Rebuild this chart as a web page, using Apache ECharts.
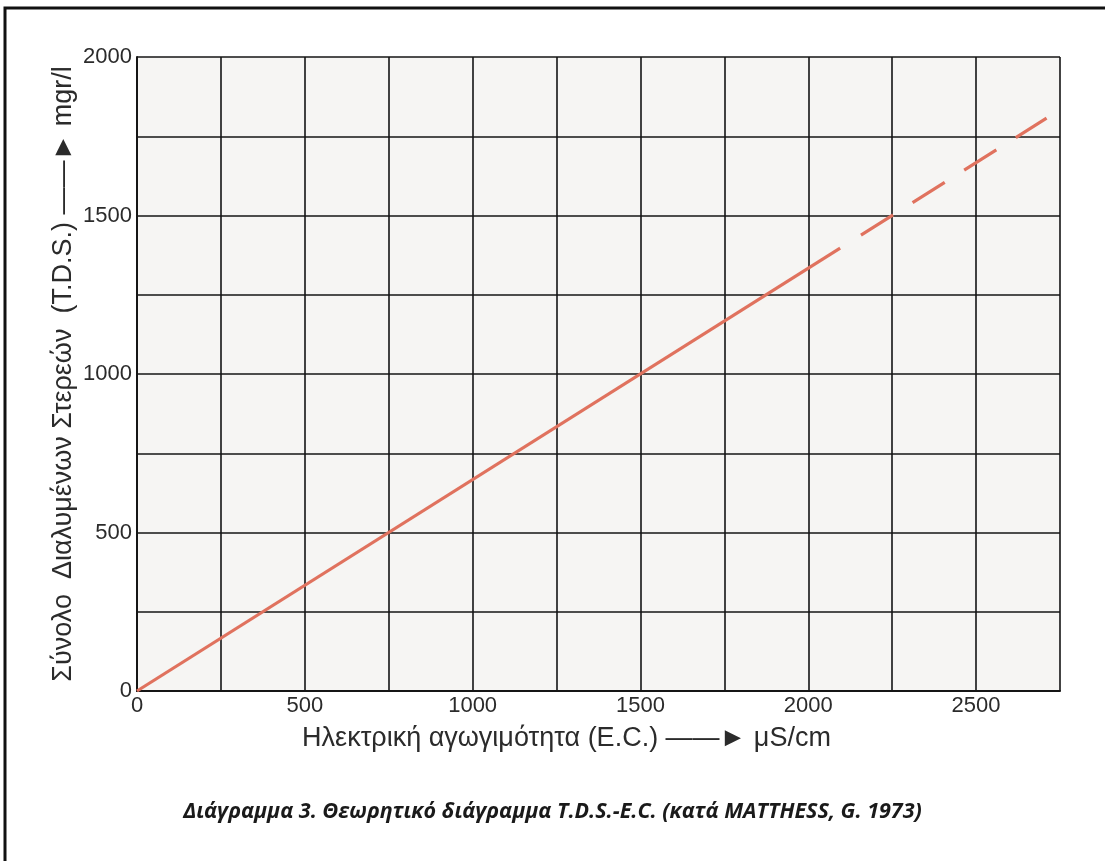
<!DOCTYPE html>
<html>
<head>
<meta charset="utf-8">
<script src="https://cdn.jsdelivr.net/npm/echarts@6/dist/echarts.min.js"></script>
<style>
html,body{margin:0;padding:0;background:#fff;}
#chart{width:1105px;height:861px;}
</style>
</head>
<body>
<div id="chart"></div>
<script>
// Data
const solidEC = [0, 2095];
const solidTDS = [0, 1397];
const dashedEC = [2157, 2710];
const dashedTDS = [1438, 1807];
const xTickLabels = [0, 500, 1000, 1500, 2000, 2500];
const yTickLabels = [0, 500, 1000, 1500, 2000];
const xName = 'Ηλεκτρική αγωγιμότητα (E.C.) ——► μS/cm';
const yName = 'Σύνολο  Διαλυμένων Στερεών  (T.D.S.) ——► mgr/l';
const caption = 'Διάγραμμα 3. Θεωρητικό διάγραμμα T.D.S.-E.C. (κατά MATTHESS, G. 1973)';

const chart = echarts.init(document.getElementById('chart'), null, {renderer: 'canvas'});
const pairs = (xs, ys) => xs.map((x, i) => [x, ys[i]]);
const gridLine = {show: true, lineStyle: {color: '#151515', width: 1.6}};
const labelStyle = {color: '#2b2b2b', fontSize: 22, fontFamily: '"Liberation Sans", Arial, sans-serif'};

chart.setOption({
  backgroundColor: '#ffffff',
  animation: false,
  grid: {left: 137, top: 57, right: 45, bottom: 170, show: true, backgroundColor: '#f6f5f3', borderWidth: 0},
  xAxis: {
    type: 'value', min: 0, max: 2750, interval: 250,
    axisLine: {show: true, lineStyle: {color: '#151515', width: 2}},
    axisTick: {show: false},
    splitLine: gridLine,
    axisLabel: Object.assign({margin: 4, showMaxLabel: false,
      formatter: v => xTickLabels.includes(v) ? String(v) : ''}, labelStyle),
    name: xName, nameLocation: 'middle', nameGap: 34, nameMoveOverlap: false,
    nameTextStyle: {color: '#2b2b2b', fontSize: 27, fontFamily: '"Liberation Sans", Arial, sans-serif', padding: [0, 64, 0, 0]}
  },
  yAxis: {
    type: 'value', min: 0, max: 2000, interval: 250,
    axisLine: {show: true, lineStyle: {color: '#151515', width: 2}},
    axisTick: {show: false},
    splitLine: gridLine,
    axisLabel: Object.assign({margin: 5,
      formatter: v => yTickLabels.includes(v) ? String(v) : ''}, labelStyle),
    name: yName, nameLocation: 'middle', nameGap: 60, nameRotate: 90, nameMoveOverlap: false,
    nameTextStyle: {color: '#2b2b2b', fontSize: 27, fontFamily: '"Liberation Sans", Arial, sans-serif'}
  },
  series: [
    {type: 'line', data: pairs(solidEC, solidTDS), showSymbol: false, symbol: 'none',
     lineStyle: {color: '#e0725e', width: 3.2}},
    {type: 'line', data: pairs(dashedEC, dashedTDS), showSymbol: false, symbol: 'none',
     lineStyle: {color: '#e0725e', width: 3.2, type: [38, 23]}}
  ],
  graphic: [
    {type: 'rect', shape: {x: 5, y: 8, width: 1120, height: 880},
     style: {fill: 'none', stroke: '#111', lineWidth: 3}, silent: true},
    {type: 'text', left: 'center', top: 801,
     style: {text: caption, fill: '#1a1a1a', font: 'italic bold 21.5px "Open Sans", "Noto Sans", sans-serif'}}
  ]
});
</script>
</body>
</html>
